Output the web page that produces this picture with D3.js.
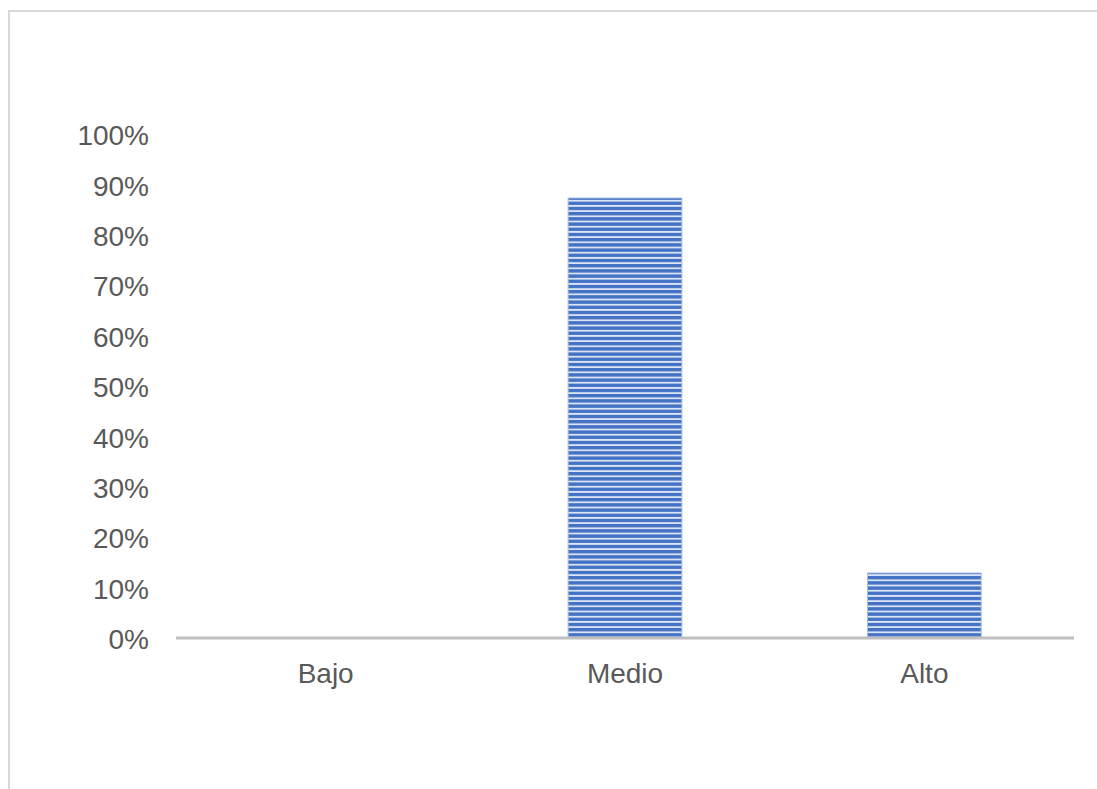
<!DOCTYPE html>
<html>
<head>
<meta charset="utf-8">
<script src="https://cdn.jsdelivr.net/npm/d3@7"></script>
<style>
  body { margin: 0; background: #fff; }
</style>
</head>
<body>
<div id="chart"></div>
<script>
// Data
const categories = ['Bajo', 'Medio', 'Alto'];
const values = [0, 0.873, 0.129];
const yTicks = [0, 0.1, 0.2, 0.3, 0.4, 0.5, 0.6, 0.7, 0.8, 0.9, 1];

const W = 1097, H = 789;
const font = "'Liberation Sans', Arial, sans-serif";
const margin = { top: 134, right: 23, bottom: 151, left: 176 };
const w = W - margin.left - margin.right;
const h = H - margin.top - margin.bottom;

const root = d3.select('#chart').append('svg')
  .attr('width', W).attr('height', H)
  .style('font-family', font);

// stripe pattern for the bars
const pat = root.append('defs').append('pattern')
  .attr('id', 'stripes')
  .attr('patternUnits', 'userSpaceOnUse')
  .attr('width', 10).attr('height', 5.2);
pat.append('rect').attr('width', 10).attr('height', 5.2).attr('fill', '#4472c4');
pat.append('rect').attr('y', 3.4).attr('width', 10).attr('height', 1.8).attr('fill', '#dce5f5');

// chart area frame (top and left edges visible)
root.append('rect')
  .attr('x', 9).attr('y', 11)
  .attr('width', W + 10).attr('height', H + 10)
  .attr('fill', 'none')
  .attr('stroke', '#d9d9d9')
  .attr('stroke-width', 2);

const svg = root.append('g')
  .attr('transform', `translate(${margin.left},${margin.top})`);

const x = d3.scaleBand()
  .domain(categories)
  .range([0, w])
  .paddingInner(0.62)
  .paddingOuter(0.31);

const y = d3.scaleLinear()
  .domain([0, 1])
  .range([h, 0]);

// bars
svg.selectAll('.bar')
  .data(categories.map((c, i) => ({ c, v: values[i] })))
  .join('rect')
  .attr('class', 'bar')
  .attr('x', d => x(d.c))
  .attr('y', d => y(d.v))
  .attr('width', x.bandwidth())
  .attr('height', d => h - y(d.v))
  .attr('fill', 'url(#stripes)')
  .attr('stroke', '#a9bde6')
  .attr('stroke-width', 1);

// y axis labels
const yAxis = svg.append('g')
  .attr('transform', 'translate(-27,0)')
  .call(d3.axisLeft(y).tickValues(yTicks).tickSize(0).tickPadding(0)
    .tickFormat(d3.format('.0%')));
yAxis.select('.domain').remove();
yAxis.selectAll('text')
  .attr('fill', '#595959')
  .attr('font-size', '28px')
  .attr('font-family', font)
  .attr('dy', '0.38em');

// baseline
svg.append('line')
  .attr('x1', 0).attr('x2', w)
  .attr('y1', h).attr('y2', h)
  .attr('stroke', '#bfbfbf')
  .attr('stroke-width', 3);

// x axis labels
const xAxis = svg.append('g')
  .attr('transform', `translate(0,${h})`)
  .call(d3.axisBottom(x).tickSize(0).tickPadding(0));
xAxis.select('.domain').remove();
xAxis.selectAll('text')
  .attr('fill', '#595959')
  .attr('font-size', '28px')
  .attr('font-family', font)
  .attr('dy', '1.6em');
</script>
</body>
</html>
